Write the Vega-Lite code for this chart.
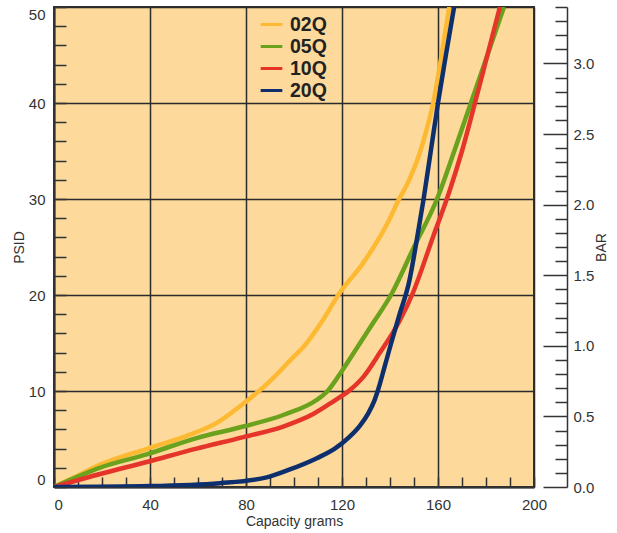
{
  "$schema": "https://vega.github.io/schema/vega-lite/v6.json",
  "width": 480,
  "height": 480,
  "autosize": {"type": "none"},
  "padding": {"left": 54, "top": 7, "right": 83, "bottom": 46},
  "background": "white",
  "config": {
    "view": {"fill": "#FDD99B", "stroke": "#333333", "strokeWidth": 2},
    "axis": {
      "labelFont": "Liberation Sans",
      "titleFont": "Liberation Sans",
      "labelColor": "#333333",
      "titleColor": "#333333",
      "domainColor": "#333333",
      "tickColor": "#333333",
      "gridColor": "#2b2b2b",
      "gridWidth": 1.5,
      "tickWidth": 1.5,
      "domainWidth": 2,
      "titleFontWeight": "normal",
      "labelFontSize": 15,
      "titleFontSize": 14
    }
  },
  "layer": [
    {
      "data": {
        "values": [
          {"series": "02Q", "g": 0, "p": 0},
          {"series": "02Q", "g": 10, "p": 1.2},
          {"series": "02Q", "g": 19, "p": 2.3},
          {"series": "02Q", "g": 39, "p": 4.0},
          {"series": "02Q", "g": 55, "p": 5.3},
          {"series": "02Q", "g": 68, "p": 6.7},
          {"series": "02Q", "g": 79, "p": 8.7},
          {"series": "02Q", "g": 89, "p": 10.8},
          {"series": "02Q", "g": 100, "p": 13.6},
          {"series": "02Q", "g": 104, "p": 14.6},
          {"series": "02Q", "g": 111, "p": 17.0},
          {"series": "02Q", "g": 119, "p": 20.2},
          {"series": "02Q", "g": 129, "p": 23.4},
          {"series": "02Q", "g": 140, "p": 28.0},
          {"series": "02Q", "g": 143, "p": 29.6},
          {"series": "02Q", "g": 148, "p": 32.0},
          {"series": "02Q", "g": 152, "p": 34.5},
          {"series": "02Q", "g": 155, "p": 37.0},
          {"series": "02Q", "g": 158, "p": 40.0},
          {"series": "02Q", "g": 161.5, "p": 45.0},
          {"series": "02Q", "g": 164.7, "p": 50.0},
          {"series": "05Q", "g": 0, "p": 0},
          {"series": "05Q", "g": 19, "p": 2.0},
          {"series": "05Q", "g": 38.6, "p": 3.4},
          {"series": "05Q", "g": 59.4, "p": 5.1},
          {"series": "05Q", "g": 78.9, "p": 6.3},
          {"series": "05Q", "g": 95.5, "p": 7.5},
          {"series": "05Q", "g": 109.4, "p": 9.06},
          {"series": "05Q", "g": 113.6, "p": 9.9},
          {"series": "05Q", "g": 119.2, "p": 11.8},
          {"series": "05Q", "g": 126, "p": 14.4},
          {"series": "05Q", "g": 133, "p": 17.1},
          {"series": "05Q", "g": 140.4, "p": 20.0},
          {"series": "05Q", "g": 150, "p": 25.0},
          {"series": "05Q", "g": 159.6, "p": 30.0},
          {"series": "05Q", "g": 166.8, "p": 35.0},
          {"series": "05Q", "g": 173.7, "p": 40.0},
          {"series": "05Q", "g": 180.6, "p": 45.0},
          {"series": "05Q", "g": 187.5, "p": 50.0},
          {"series": "10Q", "g": 0, "p": 0},
          {"series": "10Q", "g": 19.2, "p": 1.35},
          {"series": "10Q", "g": 38.6, "p": 2.6},
          {"series": "10Q", "g": 59.4, "p": 4.0},
          {"series": "10Q", "g": 78.9, "p": 5.2},
          {"series": "10Q", "g": 95.5, "p": 6.3},
          {"series": "10Q", "g": 108, "p": 7.6},
          {"series": "10Q", "g": 116.3, "p": 8.9},
          {"series": "10Q", "g": 123.3, "p": 10.1},
          {"series": "10Q", "g": 129, "p": 11.5},
          {"series": "10Q", "g": 135.8, "p": 14.0},
          {"series": "10Q", "g": 144.2, "p": 17.4},
          {"series": "10Q", "g": 149.5, "p": 20.2},
          {"series": "10Q", "g": 158, "p": 26.1},
          {"series": "10Q", "g": 164.5, "p": 30.6},
          {"series": "10Q", "g": 170, "p": 35.0},
          {"series": "10Q", "g": 175.4, "p": 40.0},
          {"series": "10Q", "g": 180.6, "p": 45.0},
          {"series": "10Q", "g": 185.8, "p": 50.0},
          {"series": "20Q", "g": 0, "p": 0},
          {"series": "20Q", "g": 40, "p": 0.1},
          {"series": "20Q", "g": 69, "p": 0.4},
          {"series": "20Q", "g": 88.6, "p": 1.0},
          {"series": "20Q", "g": 98, "p": 1.8},
          {"series": "20Q", "g": 109.5, "p": 3.0},
          {"series": "20Q", "g": 117, "p": 4.0},
          {"series": "20Q", "g": 123, "p": 5.2},
          {"series": "20Q", "g": 127.5, "p": 6.4},
          {"series": "20Q", "g": 131, "p": 7.7},
          {"series": "20Q", "g": 133.5, "p": 9.0},
          {"series": "20Q", "g": 135.5, "p": 10.5},
          {"series": "20Q", "g": 137.5, "p": 12.3},
          {"series": "20Q", "g": 140.5, "p": 15.0},
          {"series": "20Q", "g": 144, "p": 18.0},
          {"series": "20Q", "g": 148, "p": 21.4},
          {"series": "20Q", "g": 151, "p": 25.5},
          {"series": "20Q", "g": 154, "p": 30.0},
          {"series": "20Q", "g": 157, "p": 35.0},
          {"series": "20Q", "g": 160, "p": 40.0},
          {"series": "20Q", "g": 163.3, "p": 45.0},
          {"series": "20Q", "g": 166.7, "p": 50.0}
        ]
      },
      "mark": {"type": "line", "strokeWidth": 4.5, "interpolate": "monotone", "clip": true},
      "encoding": {
        "x": {
          "field": "g",
          "type": "quantitative",
          "scale": {"domain": [0, 200], "nice": false},
          "axis": {
            "title": "Capacity grams",
            "titlePadding": 2,
            "values": [0, 10, 20, 30, 40, 50, 60, 70, 80, 90, 100, 110, 120, 130, 140, 150, 160, 170, 180, 190, 200],
            "tickSize": -10,
            "labelPadding": 20,
            "labelExpr": "datum.value % 40 == 0 ? datum.label : ''",
            "labelAlign": {"condition": {"test": "datum.value == 0", "value": "left"}, "value": "center"},
            "grid": true,
            "gridOpacity": {"condition": {"test": "datum.value % 40 == 0", "value": 1}, "value": 0}
          }
        },
        "y": {
          "field": "p",
          "type": "quantitative",
          "scale": {"domain": [0, 50], "nice": false},
          "axis": {
            "title": "PSID",
            "titlePadding": 2,
            "values": [0, 2, 4, 6, 8, 10, 12, 14, 16, 18, 20, 22, 24, 26, 28, 30, 32, 34, 36, 38, 40, 42, 44, 46, 48, 50],
            "tickSize": -12,
            "labelPadding": 21,
            "labelFlush": true,
            "labelExpr": "datum.value % 10 == 0 ? datum.label : ''",
            "grid": true,
            "gridOpacity": {"condition": {"test": "datum.value % 10 == 0", "value": 1}, "value": 0}
          }
        },
        "color": {
          "field": "series",
          "type": "nominal",
          "scale": {"domain": ["02Q", "05Q", "10Q", "20Q"], "range": ["#FDB931", "#6BA21D", "#E5352B", "#0E2F6E"]},
          "legend": {
            "title": null,
            "orient": "none",
            "legendX": 205,
            "legendY": 5,
            "padding": 0,
            "rowPadding": 0,
            "symbolType": "stroke",
            "symbolSize": 470,
            "symbolStrokeWidth": 3,
            "labelOffset": 6,
            "labelFont": "Liberation Sans",
            "labelFontWeight": "bold",
            "labelFontSize": 19.5,
            "labelColor": "#222222"
          }
        }
      }
    },
    {
      "data": {"values": [{"bar": 0}, {"bar": 3.4}]},
      "mark": {"type": "point", "opacity": 0},
      "encoding": {
        "y": {
          "field": "bar",
          "type": "quantitative",
          "scale": {"domain": [0, 3.4], "nice": false},
          "axis": {
            "orient": "right",
            "title": "BAR",
            "titleAngle": 270,
            "titlePadding": 15,
            "titleFontSize": 14,
            "offset": 33,
            "domainWidth": 1.5,
            "values": [0, 0.1, 0.2, 0.3, 0.4, 0.5, 0.6, 0.7, 0.8, 0.9, 1.0, 1.1, 1.2, 1.3, 1.4, 1.5, 1.6, 1.7, 1.8, 1.9, 2.0, 2.1, 2.2, 2.3, 2.4, 2.5, 2.6, 2.7, 2.8, 2.9, 3.0, 3.1, 3.2, 3.3, 3.4],
            "tickSize": {"condition": {"test": "round(datum.value*10) % 5 == 0", "value": -24}, "value": -12},
            "labelPadding": 30,
            "labelExpr": "round(datum.value*10) % 5 == 0 ? format(datum.value, '.1f') : ''",
            "grid": false
          }
        }
      }
    }
  ],
  "resolve": {"scale": {"y": "independent"}}
}
